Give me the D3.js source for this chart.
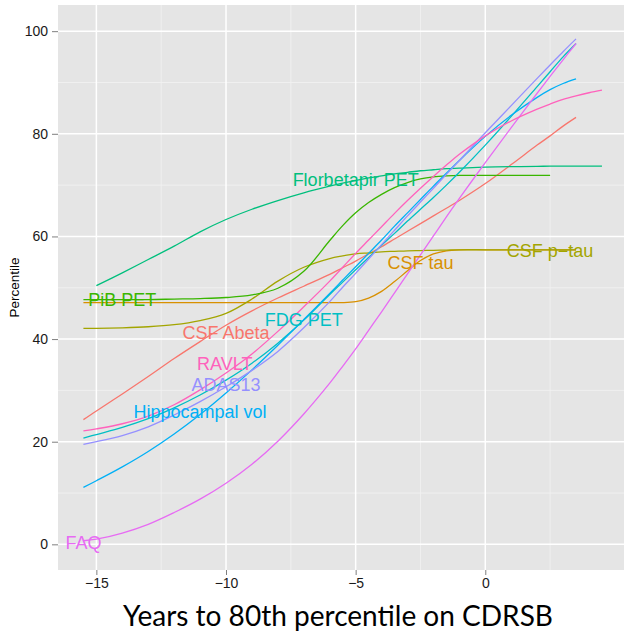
<!DOCTYPE html>
<html>
<head>
<meta charset="utf-8">
<script src="https://cdn.jsdelivr.net/npm/d3@7"></script>
<style>
  body { margin: 0; background: #fff; }
  svg { display: block; }
</style>
</head>
<body>
<div class="chart"></div>
<script>
var w = 624,
    h = 632;

// years to 80th percentile on CDRSB (common grid for every curve)
var years = [-15.5, -15, -14, -13, -12, -11, -10, -9, -8, -7, -6, -5.5, -5, -4.5, -4,
             -3.5, -3, -2.5, -2, -1.5, -1, 0, 1, 2, 2.5, 3, 3.5, 4, 4.5];

var markers = ["CSF Abeta", "CSF tau", "CSF p\u2212tau", "PiB PET", "Florbetapir PET",
               "FDG PET", "Hippocampal vol", "ADAS13", "FAQ", "RAVLT"];
var palette = ["#F8766D", "#D89000", "#A3A500", "#39B600", "#00BF7D",
               "#00BFC4", "#00B0F6", "#9590FF", "#E76BF3", "#FF62BC"];

// percentile values, null where the curve is not drawn
var csfAbeta = [24.3, 26.0, 29.3, 32.7, 36.2, 39.5, 42.7, 45.5, 48.0, 50.3, 52.6, 53.9, 55.2, 56.6, 58.0,
                59.5, 61.0, 62.5, 64.0, 65.5, 67.0, 70.3, 74.0, 77.8, 79.6, 81.5, 83.2, null, null];
var csfTau = [47.1, 47.1, 47.1, 47.1, 47.1, 47.1, 47.1, 47.1, 47.1, 47.1, 47.1, 47.1, 47.3, 48.0, 49.3,
              51.2, 53.3, 55.3, 56.6, 57.2, 57.4, 57.4, 57.4, 57.4, 57.4, 57.4, 57.4, null, null];
var csfPtau = [42.1, 42.1, 42.2, 42.4, 42.8, 43.6, 45.0, 47.8, 51.3, 54.0, 55.7, 56.2, 56.6, 56.8, 57.0,
               57.1, 57.2, 57.25, 57.3, 57.35, 57.4, 57.4, 57.4, 57.4, 57.4, 57.4, 57.4, null, null];
var pibPet = [47.7, 47.7, 47.7, 47.7, 47.8, 47.9, 48.1, 48.6, 49.9, 53.2, 59.2, 62.1, 64.6, 66.6, 68.2,
              69.5, 70.5, 71.2, 71.6, 71.8, 71.9, 71.9, 71.9, 71.9, 71.9, null, null, null, null];
var florbetapir = [null, 50.4, 52.9, 55.5, 58.1, 60.9, 63.3, 65.3, 67.0, 68.5, 69.8, 70.4, 70.9, 71.4, 71.8,
                   72.2, 72.5, 72.8, 73.0, 73.2, 73.3, 73.5, 73.6, 73.65, 73.7, 73.7, 73.7, 73.7, 73.7];
var fdgPet = [20.7, 21.4, 22.8, 24.5, 26.6, 29.1, 32.0, 35.3, 39.2, 43.7, 48.7, 51.1, 53.5, 55.9, 58.3,
              60.6, 63.0, 65.3, 67.6, 70.0, 72.5, 77.8, 83.4, 89.2, 92.1, 95.0, 97.6, null, null];
var hippocampal = [11.1, 12.4, 15.1, 18.1, 21.5, 25.3, 29.5, 34.0, 38.8, 43.8, 48.9, 51.5, 54.1, 56.7, 59.3,
                   62.0, 64.6, 67.2, 69.8, 72.3, 74.8, 79.5, 83.6, 87.1, 88.6, 89.8, 90.7, null, null];
var adas13 = [19.5, 20.0, 21.2, 22.9, 25.2, 27.8, 30.7, 33.9, 37.6, 42.2, 47.3, 50.1, 52.8, 55.6, 58.4,
              61.2, 64.0, 66.7, 69.4, 72.1, 74.8, 80.2, 85.5, 90.8, 93.4, 96.0, 98.5, null, null];
var faq = [0.7, 1.0, 2.2, 3.9, 6.2, 8.8, 11.9, 15.6, 20.1, 25.4, 31.4, 34.7, 38.1, 41.7, 45.3,
           49.0, 52.7, 56.4, 60.1, 63.8, 67.4, 74.4, 81.2, 87.9, 91.2, 94.4, 97.6, null, null];
var ravlt = [22.1, 22.5, 23.5, 25.0, 27.2, 30.1, 33.4, 37.1, 41.5, 46.3, 51.3, 54.0, 56.7, 59.3, 61.9,
             64.5, 67.0, 69.4, 71.7, 73.9, 76.0, 79.6, 82.5, 84.8, 85.8, 86.7, 87.4, 88.0, 88.5];

// where each marker name is written
var labelX = [-10.0, -2.5, 2.5, -14.0, -5.0, -7.0, -11.0, -10.0, -15.5, -10.05];
var labelY = [41.2, 55.0, 57.2, 47.8, 71.0, 43.9, 25.8, 31.2, 0.3, 35.3];

var xMajor = [-15, -10, -5, 0],
    xMinor = [-12.5, -7.5, -2.5, 2.5],
    yMajor = [0, 20, 40, 60, 80, 100],
    yMinor = [10, 30, 50, 70, 90];

var seriesValues = [csfAbeta, csfTau, csfPtau, pibPet, florbetapir,
                    fdgPet, hippocampal, adas13, faq, ravlt];

drawChart = function(){
  var pLeft = 58, pTop = 5, pRight = 624, pBottom = 570;

  var x = d3.scaleLinear().domain([-16.48, 5.35]).range([pLeft, pRight]);
  var y = d3.scaleLinear().domain([-5.0, 105.1]).range([pBottom, pTop]);

  var vis = d3.select(".chart").append("svg")
      .attr("width", w)
      .attr("height", h);

  vis.append("rect")
      .attr("x", pLeft).attr("y", pTop)
      .attr("width", pRight - pLeft).attr("height", pBottom - pTop)
      .attr("fill", "#E5E5E5");

  // grid
  var grid = vis.append("g");
  grid.selectAll(".xminor").data(xMinor).enter().append("line")
      .attr("x1", function(d) { return x(d); }).attr("x2", function(d) { return x(d); })
      .attr("y1", pTop).attr("y2", pBottom)
      .attr("stroke", "#F2F2F2").attr("stroke-width", 0.8);
  grid.selectAll(".yminor").data(yMinor).enter().append("line")
      .attr("y1", function(d) { return y(d); }).attr("y2", function(d) { return y(d); })
      .attr("x1", pLeft).attr("x2", pRight)
      .attr("stroke", "#F2F2F2").attr("stroke-width", 0.8);
  grid.selectAll(".xmajor").data(xMajor).enter().append("line")
      .attr("x1", function(d) { return x(d); }).attr("x2", function(d) { return x(d); })
      .attr("y1", pTop).attr("y2", pBottom)
      .attr("stroke", "#fff").attr("stroke-width", 1.5);
  grid.selectAll(".ymajor").data(yMajor).enter().append("line")
      .attr("y1", function(d) { return y(d); }).attr("y2", function(d) { return y(d); })
      .attr("x1", pLeft).attr("x2", pRight)
      .attr("stroke", "#fff").attr("stroke-width", 1.5);

  // curves
  var line = d3.line()
      .defined(function(d) { return d[1] != null; })
      .x(function(d) { return x(d[0]); })
      .y(function(d) { return y(d[1]); })
      .curve(d3.curveCatmullRom.alpha(0.5));

  var series = markers.map(function(m, i) {
    return {
      name: m,
      color: palette[i],
      points: years.map(function(yr, j) { return [yr, seriesValues[i][j]]; })
    };
  });

  vis.append("g").selectAll("path").data(series).enter().append("path")
      .attr("d", function(d) { return line(d.points); })
      .attr("fill", "none")
      .attr("stroke", function(d) { return d.color; })
      .attr("stroke-width", 1.3);

  // marker names on the curves
  vis.append("g").selectAll("text").data(series).enter().append("text")
      .attr("x", function(d, i) { return x(labelX[i]); })
      .attr("y", function(d, i) { return y(labelY[i]); })
      .attr("dy", "0.36em")
      .attr("text-anchor", "middle")
      .attr("font-family", "'Liberation Sans', Arial, sans-serif")
      .attr("font-size", 18)
      .attr("fill", function(d) { return d.color; })
      .text(function(d) { return d.name; });

  // axes
  var xAxis = vis.append("g")
      .attr("transform", "translate(0," + pBottom + ")")
      .call(d3.axisBottom(x).tickValues(xMajor).tickSize(5).tickPadding(3));
  var yAxis = vis.append("g")
      .attr("transform", "translate(" + pLeft + ",0)")
      .call(d3.axisLeft(y).tickValues(yMajor).tickSize(6).tickPadding(4));

  [xAxis, yAxis].forEach(function(a) {
    a.select(".domain").remove();
    a.selectAll(".tick line").attr("stroke", "#7F7F7F");
    a.selectAll(".tick text")
      .attr("fill", "#1a1a1a")
      .attr("font-family", "'Liberation Sans', Arial, sans-serif")
      .attr("font-size", 14);
  });

  vis.append("text")
      .attr("transform", "translate(19," + ((pTop + pBottom) / 2) + ") rotate(-90)")
      .attr("text-anchor", "middle")
      .attr("font-family", "'Liberation Sans', Arial, sans-serif")
      .attr("font-size", 13.5)
      .attr("fill", "#000")
      .text("Percentile");

  vis.append("text")
      .attr("x", 338)
      .attr("y", 626)
      .attr("text-anchor", "middle")
      .attr("font-family", "Lato, 'DejaVu Sans', sans-serif")
      .attr("font-size", 29)
      .attr("textLength", 430)
      .attr("lengthAdjust", "spacingAndGlyphs")
      .attr("fill", "#000")
      .text("Years to 80th percentile on CDRSB");
}

drawChart();
</script>
</body>
</html>
